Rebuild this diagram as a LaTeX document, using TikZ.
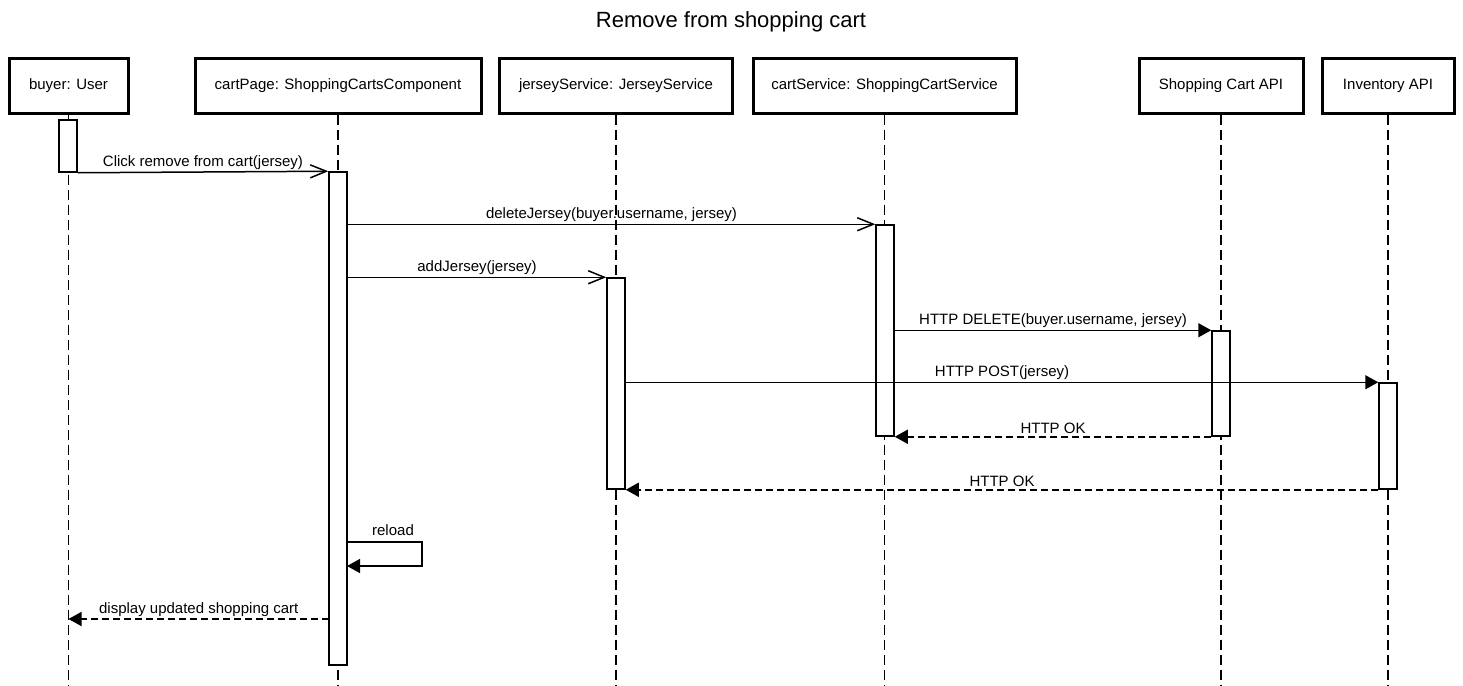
\documentclass[tikz,border=0pt]{standalone}
\usepackage{fontspec}
\setmainfont{Liberation Sans}
\usetikzlibrary{arrows.meta}
\tikzset{
  actor/.style={draw, line width=3pt, minimum height=54pt, inner sep=0pt, font=\fontsize{15}{18}\selectfont},
  act/.style={draw, fill=white, line width=1.5pt, minimum width=18pt, inner sep=0pt},
  lifeline/.style={line width=1.5pt, dash pattern=on 10pt off 5pt},
  msg/.style={line width=1.5pt, -{Straight Barb[length=16pt,width=13pt,line width=1.5pt]}},
  call/.style={line width=1.5pt, -{Triangle[length=13pt,width=14pt]}},
  reply/.style={line width=1.5pt, dash pattern=on 7pt off 4pt, -{Triangle[length=13pt,width=14pt]}},
  lbl/.style={font=\fontsize{15}{18}\selectfont, inner sep=2pt}
}
\begin{document}
\begin{tikzpicture}[x=1pt,y=-1pt]
\useasboundingbox (0,0) rectangle (1463,685);
\node[font=\fontsize{22}{26}\selectfont] (title) at (731,22) {Remove from shopping cart};
% actors
\node[actor, minimum width=119pt] (buyer) at (68.5,86) {buyer: User};
\node[actor, minimum width=286pt] (cart) at (338,86) {cartPage: ShoppingCartsComponent};
\node[actor, minimum width=233pt] (jer) at (616,86) {jerseyService: JerseyService};
\node[actor, minimum width=263pt] (svc) at (884.5,86) {cartService: ShoppingCartService};
\node[actor, minimum width=164pt] (api) at (1221,86) {Shopping Cart API};
\node[actor, minimum width=132pt] (inv) at (1388,86) {Inventory API};
% lifeline ends
\coordinate (lbuyer) at (68.5,685);
\coordinate (lcart) at (338,685);
\coordinate (ljer) at (616,685);
\coordinate (lsvc) at (884.5,685);
\coordinate (lapi) at (1221,685);
\coordinate (linv) at (1388,685);
\draw[lifeline] (buyer.south) -- (lbuyer);
\draw[lifeline] (cart.south) -- (lcart);
\draw[lifeline] (jer.south) -- (ljer);
\draw[lifeline] (svc.south) -- (lsvc);
\draw[lifeline] (api.south) -- (lapi);
\draw[lifeline] (inv.south) -- (linv);
% activations
\node[act, minimum height=52pt] (aBuyer) at (68,146) {};
\node[act, minimum height=493pt] (aCart) at (338,418.5) {};
\node[act, minimum height=211pt] (aSvc) at (885,330.5) {};
\node[act, minimum height=211pt] (aJer) at (616,383.5) {};
\node[act, minimum height=105pt] (aApi) at (1221,383.5) {};
\node[act, minimum height=106pt] (aInv) at (1388,436) {};
% messages
\draw[msg] (aBuyer.south east) -- node[lbl, above] {Click remove from cart(jersey)} (aCart.north west);
\draw[msg] (aCart.east |- aSvc.north) -- node[lbl, above] {deleteJersey(buyer.username, jersey)} (aSvc.north west);
\draw[msg] (aCart.east |- aJer.north) -- node[lbl, above] {addJersey(jersey)} (aJer.north west);
\draw[call] (aSvc.east |- aApi.north) -- node[lbl, above] {HTTP DELETE(buyer.username, jersey)} (aApi.north west);
\draw[call] (aJer.east |- aInv.north) -- node[lbl, above] {HTTP POST(jersey)} (aInv.north west);
\draw[reply] (aApi.south west) -- node[lbl, above] {HTTP OK} (aSvc.south east);
\draw[reply] (aInv.south west) -- node[lbl, above] {HTTP OK} (aJer.south east);
% self message
\coordinate (r1) at (347,542);
\coordinate (r2) at (347,566);
\draw[call] (r1) -- ++(75,0) |- (r2);
\node[lbl] (rl) at (393,530) {reload};
% reply to user
\coordinate (d1) at (329,619);
\coordinate (d2) at (68.5,619);
\draw[reply] (d1) -- node[lbl, above] {display updated shopping cart} (d2);
\end{tikzpicture}
\end{document}
